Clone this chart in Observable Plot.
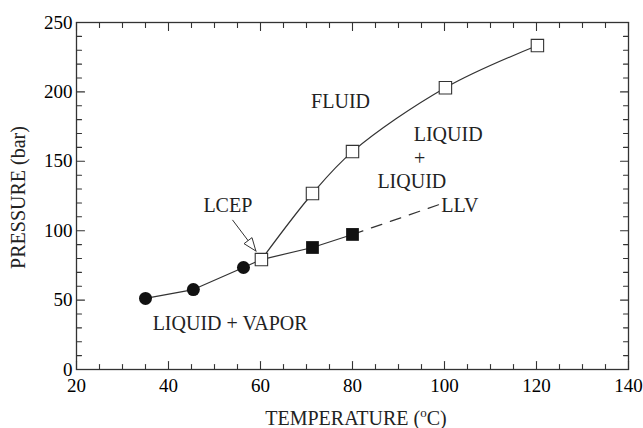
<!DOCTYPE html>
<html>
<head>
<meta charset="utf-8">
<script src="https://cdn.jsdelivr.net/npm/d3@7"></script>
<script src="https://cdn.jsdelivr.net/npm/@observablehq/plot@0.6"></script>
</head>
<body style="margin:0">
<div id="chart"></div>
<script>
// Phase boundaries of the binary mixture: pressure (bar) vs temperature (degrees C)

// Liquid-vapor coexistence points (filled circles)
const lvTemp = [35.0, 45.4, 56.3];
const lvPress = [51.2, 57.6, 73.5];

// Lower critical end point (LCEP)
const lcepTemp = [60.2];
const lcepPress = [79.2];

// Liquid-liquid-vapor three-phase points (filled squares)
const llvTemp = [71.3, 80.0];
const llvPress = [87.9, 97.3];

// Dashed extrapolation of the LLV line
const llvExtTemp = [80.0, 98.9];
const llvExtPress = [97.3, 118.9];

// Upper branch: liquid-liquid / fluid boundary (open squares)
const llTemp = [60.2, 71.3, 80.0, 100.2, 120.2];
const llPress = [79.2, 126.8, 157.0, 203.0, 233.4];

// Region labels
const regionText = ["FLUID", "LIQUID", "+", "LIQUID", "LLV", "LCEP", "LIQUID + VAPOR"];
const regionTemp = [77.4, 100.8, 94.6, 92.9, 99.3, 52.9, 53.4];
const regionPress = [193, 169.4, 152, 135.4, 118, 118, 33.1];
const regionAnchor = ["middle", "middle", "middle", "middle", "start", "middle", "middle"];

// LCEP pointer (from label to the point)
const pointerFrom = [53.9, 107.8];
const pointerTo = [59.1, 85.0];

// Axis ticks
const xTicks = [20, 40, 60, 80, 100, 120, 140];
const yTicks = [0, 50, 100, 150, 200, 250];
const xMinor = d3.range(20, 141, 5).filter(v => !xTicks.includes(v));
const yMinor = d3.range(0, 251, 10).filter(v => !yTicks.includes(v));

const ink = "#333";
const fill = "#111";
const serif = "Times New Roman";

const lowerT = [...lvTemp, ...lcepTemp, ...llvTemp];
const lowerP = [...lvPress, ...lcepPress, ...llvPress];
const lower = lowerT.map((t, i) => ({t, p: lowerP[i]}));
const ext = llvExtTemp.map((t, i) => ({t, p: llvExtPress[i]}));
const upper = llTemp.map((t, i) => ({t, p: llPress[i]}));
const lv = lvTemp.map((t, i) => ({t, p: lvPress[i]}));
const llv = llvTemp.map((t, i) => ({t, p: llvPress[i]}));
const labels = regionText.map((s, i) => ({s, t: regionTemp[i], p: regionPress[i], a: regionAnchor[i]}));

// A plain line segment used as an inward tick
const tickShape = {draw(context, l) { context.moveTo(0, 0); context.lineTo(0, -l); }};
const inward = (values, channel, frameAnchor, rotate, length) =>
  Plot.vector(values, {[channel]: d => d, frameAnchor, rotate, length, anchor: "start",
    shape: tickShape, stroke: ink, strokeWidth: 1.1});

const W = 643, H = 428, mL = 76, mR = 15, mT = 22, mB = 59;

const chart = Plot.plot({
  width: W,
  height: H,
  marginLeft: mL,
  marginRight: mR,
  marginTop: mT,
  marginBottom: mB,
  style: {fontFamily: serif, fontSize: "19px"},
  x: {domain: [20, 140]},
  y: {domain: [0, 250]},
  marks: [
    Plot.axisX(xTicks, {tickSize: 0, tickPadding: 9, label: null, fontSize: 19}),
    Plot.axisY(yTicks, {tickSize: 0, tickPadding: 4, label: null, fontSize: 19}),
    inward(xTicks, "x", "bottom", 0, 8),
    inward(xMinor, "x", "bottom", 0, 5),
    inward(xTicks, "x", "top", 180, 8),
    inward(xMinor, "x", "top", 180, 5),
    inward(yTicks, "y", "left", 90, 8),
    inward(yMinor, "y", "left", 90, 5),
    inward(yTicks, "y", "right", -90, 8),
    inward(yMinor, "y", "right", -90, 5),
    Plot.frame({stroke: ink, strokeWidth: 1.3}),
    Plot.line(lower, {x: "t", y: "p", stroke: ink, strokeWidth: 1.2}),
    Plot.line(ext, {x: "t", y: "p", stroke: ink, strokeWidth: 1.2, strokeDasharray: "11,9"}),
    Plot.line(upper, {x: "t", y: "p", stroke: ink, strokeWidth: 1.2, curve: "catmull-rom"}),
    Plot.link([0], {x1: () => pointerFrom[0], y1: () => pointerFrom[1], x2: () => pointerTo[0], y2: () => pointerTo[1],
      stroke: ink, strokeWidth: 1}),
    Plot.dot(lv, {x: "t", y: "p", r: 6.5, fill, stroke: "none"}),
    Plot.dot(llv, {x: "t", y: "p", r: 7.2, symbol: "square", fill, stroke: "none"}),
    Plot.dot(upper, {x: "t", y: "p", r: 7, symbol: "square", fill: "#fff", stroke: ink, strokeWidth: 1.1}),
    Plot.text(labels.filter(d => d.a === "middle"), {x: "t", y: "p", text: "s", textAnchor: "middle", fontSize: 20, fill: "#222"}),
    Plot.text(labels.filter(d => d.a === "start"), {x: "t", y: "p", text: "s", textAnchor: "start", fontSize: 20, fill: "#222"})
  ]
});

const svg = d3.select(chart);
const sx = chart.scale("x"), sy = chart.scale("y");

// Hollow triangular head for the LCEP pointer, placed with the plot's scales
{
  const x1 = sx.apply(pointerFrom[0]), y1 = sy.apply(pointerFrom[1]);
  const x2 = sx.apply(pointerTo[0]), y2 = sy.apply(pointerTo[1]);
  const a = Math.atan2(y2 - y1, x2 - x1);
  const len = 13, half = 5;
  const bx = x2 - len * Math.cos(a), by = y2 - len * Math.sin(a);
  const nx = -Math.sin(a) * half, ny = Math.cos(a) * half;
  svg.append("polygon")
    .attr("points", [[x2, y2], [bx + nx, by + ny], [bx - nx, by - ny]].map(p => p.join(",")).join(" "))
    .attr("fill", "#fff")
    .attr("stroke", ink)
    .attr("stroke-width", 1);
}

// Axis titles
svg.append("text")
  .attr("transform", `translate(25,${mT + (H - mT - mB) / 2 + 2}) rotate(-90)`)
  .attr("text-anchor", "middle")
  .attr("font-size", 20)
  .attr("fill", "#222")
  .text("PRESSURE (bar)");

const xTitle = svg.append("text")
  .attr("x", mL + (W - mL - mR) / 2 + 4)
  .attr("y", 425)
  .attr("text-anchor", "middle")
  .attr("font-size", 20)
  .attr("fill", "#222");
xTitle.append("tspan").text("TEMPERATURE (");
xTitle.append("tspan").attr("font-size", 13).attr("dy", -8).text("o");
xTitle.append("tspan").attr("dy", 8).text("C)");

document.getElementById("chart").append(chart);
</script>
</body>
</html>
